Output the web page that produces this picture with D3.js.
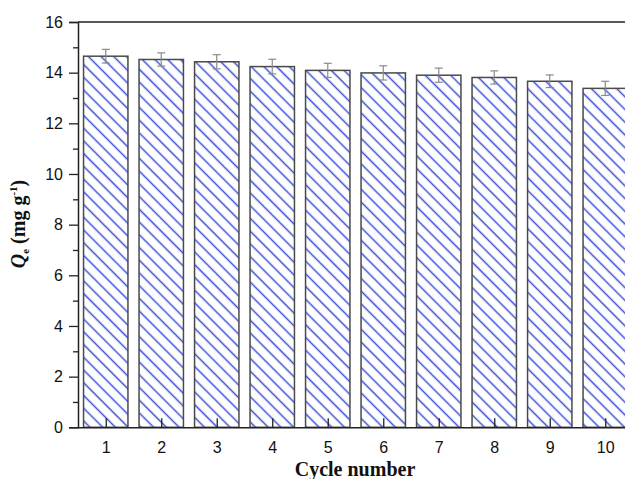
<!DOCTYPE html>
<html>
<head>
<meta charset="utf-8">
<script src="https://cdn.jsdelivr.net/npm/d3@7"></script>
<style>
  html, body { margin: 0; padding: 0; background: #ffffff; }
  svg { display: block; }
</style>
</head>
<body>
<svg id="chart" width="625" height="479"></svg>
<script>
// Adsorption capacity over repeated regeneration cycles
const cycles = [1, 2, 3, 4, 5, 6, 7, 8, 9, 10];
const capacity = [14.65, 14.52, 14.43, 14.24, 14.09, 13.99, 13.90, 13.81, 13.66, 13.38];
const errors = [0.27, 0.26, 0.28, 0.29, 0.28, 0.28, 0.28, 0.26, 0.25, 0.28];
const yTicks = [0, 2, 4, 6, 8, 10, 12, 14, 16];
const yMinorTicks = [1, 3, 5, 7, 9, 11, 13, 15];

const svg = d3.select("#chart");
const plotLeft = 78, plotRight = 633, plotTop = 22, plotBottom = 427.3;

const x = d3.scaleLinear().domain([0.5, 10.5]).range([plotLeft, plotRight]);
const y = d3.scaleLinear().domain([0, 16]).range([plotBottom, plotTop]);
const barW = x(0.8) - x(0);

// diagonal hatch fill
const defs = svg.append("defs");
const pat = defs.append("pattern")
  .attr("id", "hatch")
  .attr("patternUnits", "userSpaceOnUse")
  .attr("width", 9).attr("height", 9)
  .attr("patternTransform", "rotate(45)");
pat.append("rect").attr("width", 9).attr("height", 9).attr("fill", "#ffffff");
pat.append("line")
  .attr("x1", 0).attr("y1", 4.5).attr("x2", 9).attr("y2", 4.5)
  .attr("stroke", "#3a4fd4").attr("stroke-width", 1.5);

// bars
svg.append("g").selectAll("rect")
  .data(cycles)
  .join("rect")
  .attr("x", (d) => x(d) - barW / 2)
  .attr("y", (d, i) => y(capacity[i]))
  .attr("width", barW)
  .attr("height", (d, i) => y(0) - y(capacity[i]))
  .attr("fill", "url(#hatch)")
  .attr("stroke", "#4a4a4a")
  .attr("stroke-width", 1.5);

// error bars
const eb = svg.append("g").attr("stroke", "#8a8a8a").attr("stroke-width", 1.2);
cycles.forEach((c, i) => {
  const cx = x(c), hi = y(capacity[i] + errors[i]), lo = y(capacity[i] - errors[i]);
  eb.append("line").attr("x1", cx).attr("x2", cx).attr("y1", hi).attr("y2", lo);
  eb.append("line").attr("x1", cx - 4).attr("x2", cx + 4).attr("y1", hi).attr("y2", hi);
  eb.append("line").attr("x1", cx - 4).attr("x2", cx + 4).attr("y1", lo).attr("y2", lo);
});

// top frame line
svg.append("line")
  .attr("x1", plotLeft).attr("x2", 625).attr("y1", plotTop).attr("y2", plotTop)
  .attr("stroke", "#222").attr("stroke-width", 1.5);

// y axis
svg.append("g").attr("transform", `translate(${plotLeft},0)`)
  .call(d3.axisLeft(y).tickValues(yTicks).tickSize(9).tickPadding(6).tickFormat(d3.format("d")));
svg.append("g").attr("transform", `translate(${plotLeft},0)`)
  .call(d3.axisLeft(y).tickValues(yMinorTicks).tickSize(5).tickFormat(""))
  .call((g) => g.select(".domain").remove());

// x axis with inward ticks
const xAxis = svg.append("g").attr("transform", `translate(0,${plotBottom})`)
  .call(d3.axisBottom(x).tickValues(cycles).tickSize(0).tickPadding(14).tickFormat(d3.format("d")));
xAxis.selectAll(".tick line").remove();
xAxis.selectAll(".tick").append("line").attr("y1", 0).attr("y2", -9);

svg.selectAll(".domain").attr("stroke", "#222").attr("stroke-width", 1.5);
svg.selectAll(".tick line").attr("stroke", "#222").attr("stroke-width", 1.3);
svg.selectAll(".tick text")
  .attr("font-family", "Liberation Sans, Arial, sans-serif")
  .attr("font-size", 16).attr("fill", "#111");

// x axis title
svg.append("text")
  .attr("x", 355).attr("y", 476)
  .attr("text-anchor", "middle")
  .attr("font-family", "Liberation Serif, Times New Roman, serif")
  .attr("font-weight", "bold").attr("font-size", 20).attr("fill", "#111")
  .text("Cycle number");

// y axis title
const yt = svg.append("text")
  .attr("transform", "translate(25,224) rotate(-90)")
  .attr("text-anchor", "middle")
  .attr("font-family", "Liberation Serif, Times New Roman, serif")
  .attr("font-weight", "bold").attr("font-size", 20).attr("fill", "#111");
yt.append("tspan").attr("font-style", "italic").text("Q");
yt.append("tspan").attr("font-size", 11).attr("dy", 4).text("e");
yt.append("tspan").attr("dy", -4).text(" (mg g");
yt.append("tspan").attr("font-size", 11).attr("dy", -8).text("-1");
yt.append("tspan").attr("dy", 8).text(")");
</script>
</body>
</html>
